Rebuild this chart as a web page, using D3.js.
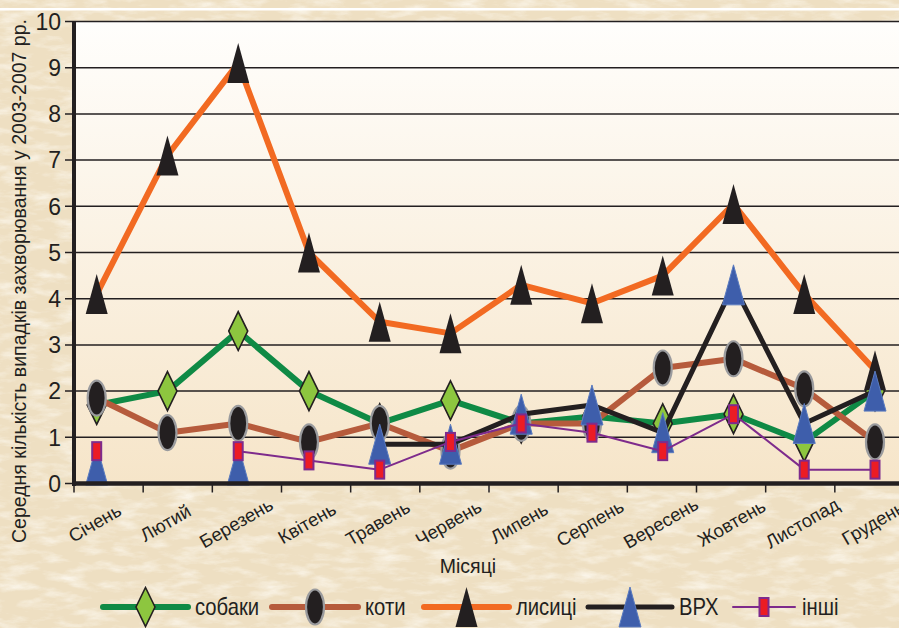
<html>
<head>
<meta charset="utf-8">
<script src="https://d3js.org/d3.v7.min.js"></script>
<style>
  body { margin: 0; background: #f1e4ca; }
  text { font-family: "Liberation Sans", Arial, sans-serif; fill: #231f20; }
</style>
</head>
<body>
<svg id="chart" width="899" height="628"></svg>
<script>
// months on the x axis
const months = ["Січень", "Лютий", "Березень", "Квітень", "Травень", "Червень",
                "Липень", "Серпень", "Вересень", "Жовтень", "Листопад", "Грудень"];
const yTicks = [0, 1, 2, 3, 4, 5, 6, 7, 8, 9, 10];

// mean cases per month, 2003-2007 (null = no value)
const dogs   = [1.7, 2.0, 3.3, 2.0, 1.3, 1.8, 1.3, 1.45, 1.3, 1.5, 0.9, 2.0];
const cats   = [1.85, 1.1, 1.3, 0.9, 1.3, 0.7, 1.3, 1.3, 2.5, 2.7, 2.05, 0.9];
const foxes  = [4.1, 7.1, 9.1, 5.0, 3.5, 3.25, 4.3, 3.9, 4.5, 6.05, 4.1, 2.45];
const cattle = [0.4, null, 0.4, null, 0.85, 0.85, 1.5, 1.7, 1.1, 4.3, 1.3, 2.0];
const others = [0.7, null, 0.7, 0.5, 0.3, 0.9, 1.3, 1.1, 0.7, 1.5, 0.3, 0.3];

const series = [
  {name: "собаки", values: dogs,   color: "#0f8a45", width: 6, marker: "diamond"},
  {name: "коти",   values: cats,   color: "#b65b3c", width: 6, marker: "ellipse"},
  {name: "лисиці", values: foxes,  color: "#f26a22", width: 6, marker: "triBlack"},
  {name: "ВРХ",    values: cattle, color: "#231f20", width: 5, marker: "triBlue"},
  {name: "інші",   values: others, color: "#7e2b8c", width: 2, marker: "rect"}
];

const svg = d3.select("#chart");
const defs = svg.append("defs");

// parchment texture
const f = defs.append("filter").attr("id", "paper").attr("x", 0).attr("y", 0)
  .attr("width", "100%").attr("height", "100%");
f.append("feTurbulence").attr("type", "fractalNoise").attr("baseFrequency", "0.035 0.11")
  .attr("numOctaves", 4).attr("seed", 7).attr("result", "n");
f.append("feColorMatrix").attr("in", "n").attr("type", "matrix")
  .attr("values", "0 0 0 0 1  0 0 0 0 0.98  0 0 0 0 0.93  1.8 0 0 0 -0.8");

const g1 = defs.append("linearGradient").attr("id", "plotbg")
  .attr("x1", 0).attr("y1", 0).attr("x2", 0).attr("y2", 1);
g1.append("stop").attr("offset", "0%").attr("stop-color", "#fffefc");
g1.append("stop").attr("offset", "100%").attr("stop-color", "#f6e5c9");

svg.append("rect").attr("width", 899).attr("height", 628).attr("fill", "#eedfc2");
svg.append("rect").attr("width", 899).attr("height", 628).attr("filter", "url(#paper)").attr("opacity", 0.85);
svg.append("rect").attr("x", 0).attr("y", 8).attr("width", 899).attr("height", 2.5).attr("fill", "#fff");

// scales
const y = d3.scaleLinear().domain([0, 10]).range([483.5, 21.5]);
const xBand = d3.scaleBand().domain(months).range([74, 904]);
const x = d3.scalePoint().domain(months).range([96.7, 875]);

svg.append("rect").attr("x", 74).attr("y", y(10)).attr("width", 825)
  .attr("height", y(0) - y(10)).attr("fill", "url(#plotbg)");

// grid lines
svg.append("g").selectAll("line").data(yTicks).join("line")
  .attr("x1", 65).attr("x2", 899)
  .attr("y1", d => y(d)).attr("y2", d => y(d))
  .attr("stroke", "#231f20").attr("stroke-width", 1.5);

// series
const line = d3.line()
  .defined(d => d.v !== null)
  .x(d => x(d.m)).y(d => y(d.v));

const triPath = "M0,-20L11,20L-11,20Z";
const diaPath = "M0,-19.5L9.5,0L0,19.5L-9.5,0Z";

function drawMarker(sel, type) {
  if (type === "diamond") {
    sel.append("path").attr("d", diaPath).attr("fill", "#8dc63f")
      .attr("stroke", "#231f20").attr("stroke-width", 1.6);
  } else if (type === "ellipse") {
    sel.append("ellipse").attr("rx", 9).attr("ry", 17.5).attr("fill", "#231f20")
      .attr("stroke", "#9a9b9e").attr("stroke-width", 2.2);
  } else if (type === "triBlack") {
    sel.append("path").attr("d", triPath).attr("fill", "#231f20");
  } else if (type === "triBlue") {
    sel.append("path").attr("d", triPath).attr("fill", "#3e5eab")
      .attr("stroke", "#5a7bbf").attr("stroke-width", 1);
  } else if (type === "rect") {
    sel.append("rect").attr("x", -4.5).attr("y", -9).attr("width", 9).attr("height", 18)
      .attr("fill", "#ec1c24").attr("stroke", "#7e2b8c").attr("stroke-width", 2);
  }
}

series.forEach(s => {
  const pts = months.map((m, i) => ({m: m, v: s.values[i]}));
  const g = svg.append("g");
  g.append("path").datum(pts).attr("d", line)
    .attr("fill", "none").attr("stroke", s.color).attr("stroke-width", s.width)
    .attr("stroke-linejoin", "round");
  pts.filter(d => d.v !== null).forEach(d => {
    const mg = g.append("g").attr("transform", `translate(${x(d.m)},${y(d.v)})`);
    drawMarker(mg, s.marker);
  });
});

// axes
svg.append("line").attr("x1", 74).attr("x2", 74).attr("y1", y(10)).attr("y2", y(0) + 2.5)
  .attr("stroke", "#231f20").attr("stroke-width", 4);
svg.append("line").attr("x1", 72).attr("x2", 899).attr("y1", y(0)).attr("y2", y(0))
  .attr("stroke", "#231f20").attr("stroke-width", 4.5);
svg.append("g").selectAll("line").data(months).join("line")
  .attr("x1", d => xBand(d)).attr("x2", d => xBand(d))
  .attr("y1", y(0)).attr("y2", y(0) + 9)
  .attr("stroke", "#231f20").attr("stroke-width", 1.5);

// y tick labels
svg.append("g").selectAll("text").data(yTicks).join("text")
  .attr("x", 61).attr("y", d => y(d)).attr("dy", "0.36em")
  .attr("text-anchor", "end").attr("font-size", 23)
  .text(d => d);

// x tick labels
svg.append("g").selectAll("text").data(months).join("text")
  .attr("transform", d => `translate(${x(d) - 2},523) rotate(-30)`)
  .attr("text-anchor", "middle").attr("dy", "0.35em").attr("font-size", 18.5)
  .text(d => d);

// axis titles
svg.append("text").attr("x", 468).attr("y", 573).attr("text-anchor", "middle")
  .attr("font-size", 19.5).text("Місяці");
svg.append("text").attr("transform", "translate(26,281) rotate(-90)")
  .attr("text-anchor", "middle").attr("font-size", 19.5)
  .text("Середня кількість випадків захворювання у 2003-2007 рр.");

// legend
const legendX = [103, 272, 424, 588, 733];
const legendLen = [85, 86, 85, 84, 62];
const ly = 607;
series.forEach((s, i) => {
  const g = svg.append("g");
  const x0 = legendX[i], x1 = x0 + legendLen[i];
  g.append("line").attr("x1", x0).attr("x2", x1).attr("y1", ly).attr("y2", ly)
    .attr("stroke", s.color).attr("stroke-width", s.width).attr("stroke-linecap", "round");
  drawMarker(g.append("g").attr("transform", `translate(${(x0 + x1) / 2},${ly})`), s.marker);
  g.append("text").attr("transform", `translate(${x1 + 7},${ly}) scale(0.88,1)`)
    .attr("dy", "0.36em").attr("font-size", 23).text(s.name);
});
</script>
</body>
</html>
